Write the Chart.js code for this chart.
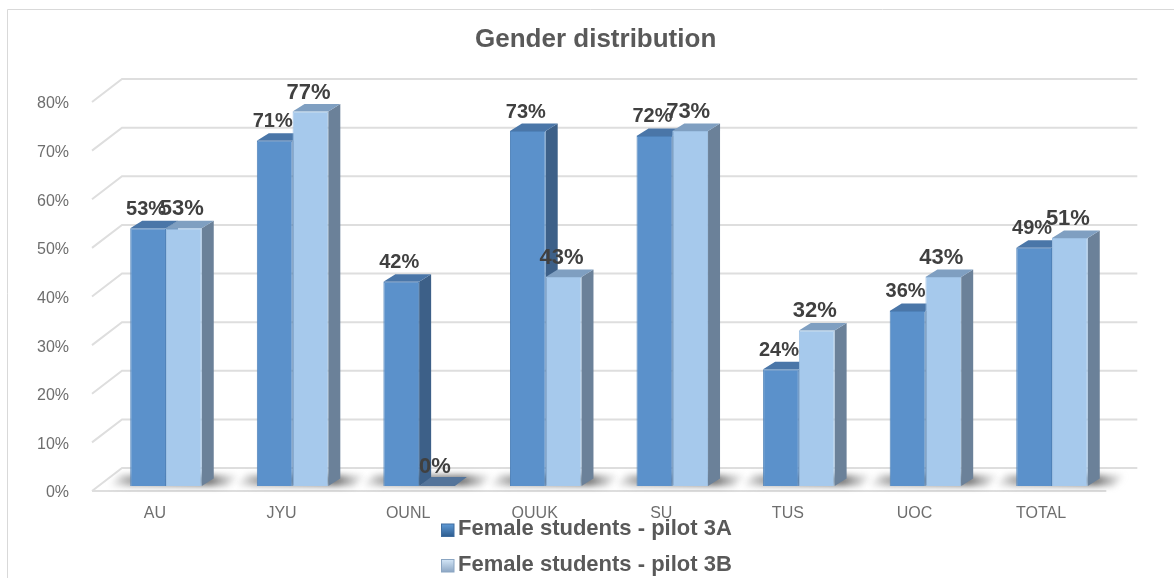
<!DOCTYPE html>
<html><head><meta charset="utf-8">
<style>html,body{margin:0;padding:0;background:#fff;overflow:hidden}#w{position:relative;width:1174px;height:578px}</style>
<script src="https://cdn.jsdelivr.net/npm/chart.js@4"></script>
</head><body><div id="w"><canvas id="c" width="1174" height="578"></canvas></div>
<script>
const categories = ["AU","JYU","OUNL","OUUK","SU","TUS","UOC","TOTAL"];
const pilot3A = [53,71,42,73,72,24,36,49];
const pilot3B = [53,77,0,43,73,32,43,51];
const seriesNames = ["Female students - pilot 3A","Female students - pilot 3B"];
const chartTitle = "Gender distribution";
const tickStep = 10, tickMax = 80;

const FONT = '"Liberation Sans", Arial, sans-serif';
const looks = [
  {front:'#5b91cb',edge:'#4f82b9',top:'#4a76a8',side:'#3d6088',label:'20px',sw:['#5f9ad6','#2f5f92'],swb:'#3f6d9f'},
  {front:'#a6c9ec',edge:'#9cbfe2',top:'#7f9fc1',side:'#6b8199',label:'22px',sw:['#d3e6f7','#8fa9c6'],swb:'#8aa5c2'}
];
const DX = 12, DY = 7.5;      // bar depth
const WX = 30, WY = 23;       // wall depth
const FX = 92, FY = 5;        // front of floor

function drawDepth(chart,k){
  const c = chart.ctx, look = looks[k];
  chart.getDatasetMeta(k).data.forEach(el=>{
    const l=el.x-el.width/2, r=el.x+el.width/2, t=el.y, b=el.base;
    if(b-t>0.5){
      c.fillStyle=look.side; c.beginPath(); c.moveTo(r,t); c.lineTo(r+DX,t-DY); c.lineTo(r+DX,b-DY); c.lineTo(r,b); c.closePath(); c.fill();
      c.fillStyle=look.top;
      c.beginPath(); c.moveTo(l,t); c.lineTo(l+DX,t-DY); c.lineTo(r+DX,t-DY); c.lineTo(r,t); c.closePath(); c.fill();
    } else {
      c.fillStyle='#54749a';
      c.beginPath(); c.moveTo(l,t); c.lineTo(l+DX,t-9); c.lineTo(r+DX,t-9); c.lineTo(r,t); c.closePath(); c.fill();
    }
  });
}

const scene = {
  id:'scene',
  afterLayout(chart){
    const t = chart.titleBlock; t.left += 29.5; t.right += 29.5;
  },
  beforeDraw(chart){
    const c = chart.ctx; c.save();
    c.strokeStyle='#d9d9d9'; c.lineWidth=1;
    c.beginPath(); c.moveTo(7.5,578); c.lineTo(7.5,9.5); c.lineTo(1174,9.5); c.stroke();
    c.restore();
  },
  beforeDatasetsDraw(chart){
    const c = chart.ctx, y = chart.scales.y, right = chart.chartArea.right;
    c.save(); c.strokeStyle='#dedede'; c.lineWidth=2;
    y.ticks.forEach(t=>{
      const p = y.getPixelForValue(t.value)+FY;
      c.beginPath(); c.moveTo(FX,p); c.lineTo(FX+WX,p-WY); c.lineTo(right+22,p-WY); c.stroke();
    });
    const b = y.getPixelForValue(0)+FY;
    c.beginPath(); c.moveTo(FX,b); c.lineTo(right-9,b); c.stroke();
    // floor shadows
    const m0 = chart.getDatasetMeta(0).data, m1 = chart.getDatasetMeta(1).data;
    c.filter='blur(3px)';
    m0.forEach((el,i)=>{
      const l = el.x-el.width/2, r = m1[i].x+m1[i].width/2, base = el.base;
      const x0=l-22, x1=r+38, w=x1-x0;
      const g=c.createLinearGradient(x0,0,x1,0);
      g.addColorStop(0,'rgba(120,120,120,0)'); g.addColorStop(22/w,'rgba(110,110,110,.6)');
      g.addColorStop((r+8-x0)/w,'rgba(85,85,85,.8)'); g.addColorStop(1,'rgba(120,120,120,0)');
      c.fillStyle=g; c.beginPath(); c.moveTo(x0,base); c.lineTo(x1-12,base); c.lineTo(x1,base-11); c.lineTo(x0+12,base-11); c.closePath(); c.fill();
    });
    c.filter='none';
    c.restore();
  },
  beforeDatasetDraw(chart,args){
    // Chart.js paints dataset 1 first: lay all depth faces down then, back to front
    if(args.index===1){
      const c = chart.ctx; c.save();
      drawDepth(chart,0); drawDepth(chart,1);
      c.restore();
    }
  },
  afterDatasetsDraw(chart){
    const c = chart.ctx; c.save();
    c.textAlign='center'; c.textBaseline='middle'; c.fillStyle='#404040';
    [0,1].forEach(k=>{
      c.font='bold '+looks[k].label+' '+FONT;
      chart.getDatasetMeta(k).data.forEach((el,i)=>{
        const v = chart.data.datasets[k].data[i];
        c.fillText(v+'%', el.x-2, el.y-19);
      });
    });
    // legend
    chart.data.datasets.forEach((d,k)=>{
      const yy = 530+k*35.5;
      const g=c.createLinearGradient(0,yy-6,0,yy+6);
      g.addColorStop(0,looks[k].sw[0]); g.addColorStop(1,looks[k].sw[1]);
      c.fillStyle=g; c.fillRect(441.5,yy-6,12.5,12.5);
      c.strokeStyle=looks[k].swb; c.lineWidth=1; c.strokeRect(441.5,yy-6,12.5,12.5);
      c.font='bold 22px '+FONT; c.fillStyle='#595959'; c.textAlign='left';
      c.fillText(d.label,458,yy-1);
    });
    c.restore();
  }
};

new Chart(document.getElementById('c'),{
  type:'bar',
  data:{labels:categories,datasets:[
    {label:seriesNames[0],data:pilot3A,backgroundColor:looks[0].front,borderColor:looks[0].edge,borderWidth:1},
    {label:seriesNames[1],data:pilot3B,backgroundColor:looks[1].front,borderColor:looks[1].edge,borderWidth:1}
  ]},
  options:{
    responsive:false,animation:false,
    layout:{padding:{left:17,right:58.7,top:0,bottom:0}},
    categoryPercentage:0.565,barPercentage:1,
    plugins:{
      legend:{display:false},tooltip:{enabled:false},
      title:{display:true,text:chartTitle,color:'#595959',font:{family:FONT,size:26,weight:'bold'},padding:{top:24,bottom:41.8}}
    },
    scales:{
      x:{grid:{display:false},border:{display:false},
         ticks:{color:'#6e6e6e',font:{family:FONT,size:16},padding:10,labelOffset:-11,maxRotation:0,autoSkip:false},
         afterFit(s){s.height=92;}},
      y:{min:0,max:tickMax,grid:{display:false},border:{display:false},
         ticks:{stepSize:tickStep,color:'#6e6e6e',font:{family:FONT,size:16},padding:25.7,labelOffset:7,callback:v=>v+'%'},
         afterFit(s){s.width=85.7;}}
    }
  },
  plugins:[scene]
});
</script></body></html>
